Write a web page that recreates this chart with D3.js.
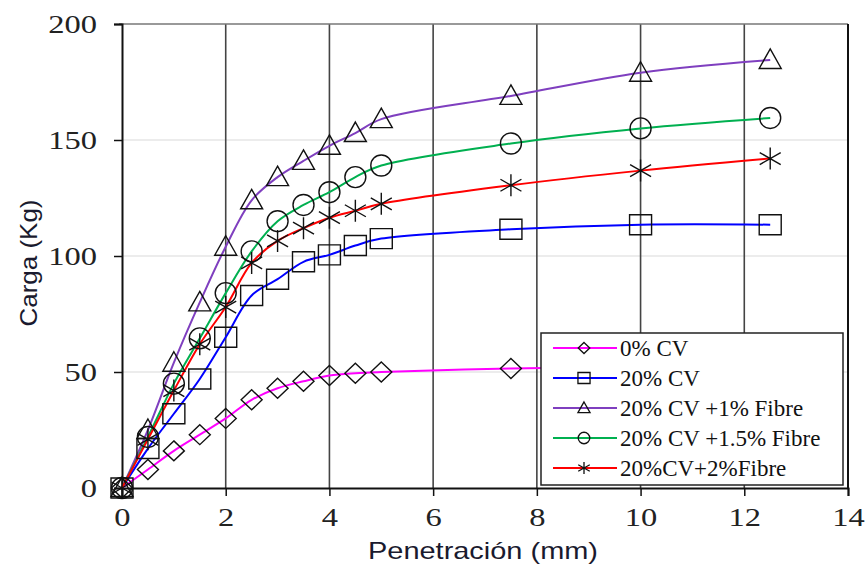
<!DOCTYPE html>
<html>
<head>
<meta charset="utf-8">
<script src="https://cdn.jsdelivr.net/npm/d3@7"></script>
<style>
  body { margin: 0; background: #fff; }
</style>
</head>
<body>
<div class="chart"></div>
<script>
// chart size
const WIDTH = 865;
const HEIGHT = 565;

// penetration values (mm)
const penetracion = [0, 0.5, 1, 1.5, 2, 2.5, 3, 3.5, 4, 4.5, 5, 7.5, 10, 12.5];

// carga (Kg) per mix
const cv0 = [0, 8, 16, 23, 30, 38, 43, 46, 48.5, 49.5, 50, 51.5, 52, 52.5];
const cv20 = [0, 17, 32, 47, 65, 83, 90, 97.5, 100.5, 104.5, 107.5, 111.5, 113.5, 113.5];
const cv20f1 = [0, 25, 54, 80, 104, 124, 134, 141, 147.5, 153, 159, 169, 179, 184.5];
const cv20f15 = [0, 22, 45, 64.5, 84, 102, 115, 122, 127.5, 134, 139, 148.5, 155, 159.5];
const cv20f2 = [0, 21, 42, 62, 78, 97, 106.5, 112, 116.5, 119.5, 122.5, 130.5, 136.8, 142];

const seriesNames = ["0% CV", "20% CV", "20% CV +1% Fibre", "20% CV +1.5% Fibre", "20%CV+2%Fibre"];
const seriesColors = ["#ff00ff", "#0000ff", "#7f3fbf", "#00b050", "#ff0000"];
const seriesMarkers = ["diamond", "square", "triangle", "circle", "star"];

const xTicks = [0, 2, 4, 6, 8, 10, 12, 14];
const yTicks = [0, 50, 100, 150, 200];

const series = [cv0, cv20, cv20f1, cv20f15, cv20f2].map((vals, i) => ({
    name: seriesNames[i],
    color: seriesColors[i],
    marker: seriesMarkers[i],
    points: vals.map((v, j) => [penetracion[j], v])
}));

const x = d3.scaleLinear().domain([0, 14]).range([122, 848]);
const y = d3.scaleLinear().domain([0, 200]).range([488, 24]);

// the original picture is a bit stretched sideways
const STRETCH = 1.25;

const svg = d3.select(".chart")
    .append("svg")
    .attr("width", WIDTH)
    .attr("height", HEIGHT);

// horizontal light grid
svg.append("g")
    .selectAll("line")
    .data(yTicks.filter(d => d > 0 && d < 200))
    .join("line")
    .attr("x1", x(0)).attr("x2", x(14))
    .attr("y1", d => y(d)).attr("y2", d => y(d))
    .attr("stroke", "#d9d9d9")
    .attr("stroke-width", 1);

// vertical dark grid
svg.append("g")
    .selectAll("line")
    .data(xTicks.filter(d => d > 0 && d < 14))
    .join("line")
    .attr("x1", d => x(d)).attr("x2", d => x(d))
    .attr("y1", y(0)).attr("y2", y(200))
    .attr("stroke", "#444")
    .attr("stroke-width", 1.6);

// top border (grey) and right border
svg.append("line")
    .attr("x1", x(0) - 3).attr("x2", x(14))
    .attr("y1", y(200)).attr("y2", y(200))
    .attr("stroke", "#777").attr("stroke-width", 1.5);
svg.append("line")
    .attr("x1", x(14)).attr("x2", x(14))
    .attr("y1", y(200)).attr("y2", y(0))
    .attr("stroke", "#111").attr("stroke-width", 2);

// axes
const xAxis = svg.append("g")
    .attr("transform", `translate(0,${y(0)})`)
    .call(d3.axisBottom(x).tickValues(xTicks).tickSize(8).tickPadding(12));
const yAxis = svg.append("g")
    .attr("transform", `translate(${x(0)},0)`)
    .call(d3.axisLeft(y).tickValues(yTicks).tickSize(8));

[xAxis, yAxis].forEach(a => {
    a.select(".domain").attr("stroke", "#111").attr("stroke-width", 2);
    a.selectAll(".tick line").attr("stroke", "#111").attr("stroke-width", 1.5);
    a.selectAll("text")
        .attr("fill", "#222")
        .attr("transform", `scale(${STRETCH},1)`)
        .style("font-family", "'Liberation Serif', 'Times New Roman', serif")
        .style("font-size", "26px");
});
yAxis.selectAll("text").attr("x", -25 / STRETCH);

// axis titles
svg.append("text")
    .attr("x", 483).attr("y", 559)
    .attr("text-anchor", "middle")
    .attr("textLength", 230)
    .attr("lengthAdjust", "spacingAndGlyphs")
    .style("font-family", "'Liberation Sans', Arial, sans-serif")
    .style("font-size", "24px")
    .attr("fill", "#1a1a2e")
    .text("Penetración (mm)");
svg.append("text")
    .attr("transform", "translate(37,263) rotate(-90)")
    .attr("text-anchor", "middle")
    .attr("textLength", 127)
    .attr("lengthAdjust", "spacingAndGlyphs")
    .style("font-family", "'Liberation Sans', Arial, sans-serif")
    .style("font-size", "24px")
    .attr("fill", "#1a1a2e")
    .text("Carga (Kg)");

// marker shapes
function markerPath(type) {
    switch (type) {
        case "diamond": return "M0,-10L10.5,0L0,10L-10.5,0Z";
        case "square": return "M-11,-10H11V10H-11Z";
        case "triangle": return "M0,-11L11,8.5H-11Z";
        case "circle": return d3.symbol(d3.symbolCircle, Math.PI * 110)();
        case "star": return "M0,-11V11M-10.5,-6L10.5,6M-10.5,6L10.5,-6";
    }
}

const line = d3.line()
    .x(d => x(d[0]))
    .y(d => y(d[1]))
    .curve(d3.curveCatmullRom.alpha(0.5));

const lines = svg.append("g");
series.forEach(s => {
    lines.append("path")
        .datum(s.points)
        .attr("d", line)
        .attr("fill", "none")
        .attr("stroke", s.color)
        .attr("stroke-width", 2);
});

const markers = svg.append("g");
series.forEach(s => {
    markers.append("g")
        .selectAll("path")
        .data(s.points)
        .join("path")
        .attr("transform", d => `translate(${x(d[0])},${y(d[1])})`)
        .attr("d", markerPath(s.marker))
        .attr("fill", "none")
        .attr("stroke", "#111")
        .attr("stroke-width", 1.4);
});

// legend
const legend = svg.append("g").attr("transform", "translate(541,333)");
legend.append("rect")
    .attr("width", 302).attr("height", 152)
    .attr("fill", "#fff")
    .attr("stroke", "#222")
    .attr("stroke-width", 1.5);

const rows = legend.selectAll("g.row")
    .data(series)
    .join("g")
    .attr("class", "row")
    .attr("transform", (d, i) => `translate(0,${15 + i * 30})`);
rows.append("line")
    .attr("x1", 12).attr("x2", 76)
    .attr("stroke", d => d.color)
    .attr("stroke-width", 2);
rows.append("path")
    .attr("transform", "translate(43,0) scale(0.55)")
    .attr("d", d => markerPath(d.marker))
    .attr("fill", "none")
    .attr("stroke", "#111")
    .attr("stroke-width", 2.4);
rows.append("text")
    .attr("x", 79).attr("y", 8)
    .style("font-family", "'Liberation Serif', 'Times New Roman', serif")
    .style("font-size", "23px")
    .attr("fill", "#111")
    .text(d => d.name);
</script>
</body>
</html>
